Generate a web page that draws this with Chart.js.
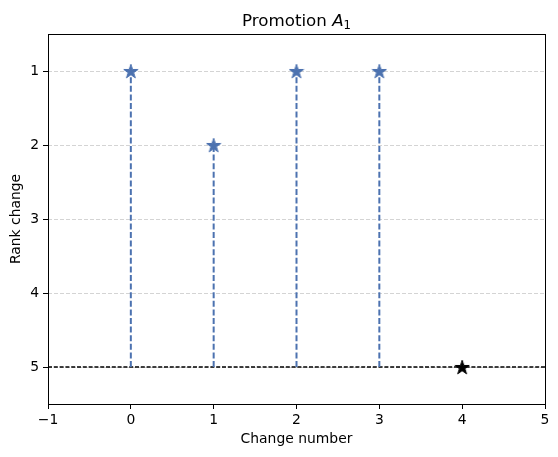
<!DOCTYPE html>
<html>
<head>
<meta charset="utf-8">
<script src="https://cdn.jsdelivr.net/npm/chart.js@4.4.0/dist/chart.umd.min.js"></script>
<style>
  body { margin: 0; background: #fff; }
</style>
</head>
<body>
<canvas id="stemChart" width="558" height="457"></canvas>
<script>
// data
const changeNumbers = [0, 1, 2, 3];
const rankChanges = [1, 2, 1, 1];
const finalChange = [4];
const finalRank = [5];
const baseRank = 5;

// axes
const xTicks = [-1, 0, 1, 2, 3, 4, 5];
const yTicks = [1, 2, 3, 4, 5];
const xMin = -1, xMax = 5;
const yMin = 0.5, yMax = 5.5;

const blue = '#4c72b0';
const font = 'DejaVu Sans';

// star marker (matplotlib '*')
const makeStar = (color, size) => {
  const c = document.createElement('canvas');
  c.width = size;
  c.height = size;
  const ctx = c.getContext('2d');
  const r = size / 2 - 0.5;
  const ri = r * 0.382;
  const cx = size / 2, cy = size / 2 + 0.8;
  ctx.beginPath();
  for (let i = 0; i < 10; i++) {
    const rad = i % 2 ? ri : r;
    const a = -Math.PI / 2 + i * Math.PI / 5;
    const px = cx + rad * Math.cos(a);
    const py = cy + rad * Math.sin(a);
    if (i === 0) ctx.moveTo(px, py); else ctx.lineTo(px, py);
  }
  ctx.closePath();
  ctx.fillStyle = color;
  ctx.fill();
  ctx.strokeStyle = color;
  ctx.lineWidth = 1;
  ctx.stroke();
  return c;
};

const blueStar = makeStar(blue, 16);
const blackStar = makeStar('#000', 16);

// stems
const stemSets = changeNumbers.map((x, i) => ({
  type: 'line',
  data: [{ x, y: baseRank }, { x, y: rankChanges[i] }],
  borderColor: blue,
  borderWidth: 2,
  borderDash: [6, 2.6],
  pointRadius: 0,
  order: 3,
}));

const datasets = [
  {
    type: 'line',
    data: [{ x: xMin, y: baseRank }, { x: xMax, y: baseRank }],
    borderColor: '#000',
    borderWidth: 1.4,
    borderDash: [4, 1.8],
    pointRadius: 0,
    order: 4,
  },
  ...stemSets,
  {
    type: 'scatter',
    data: changeNumbers.map((x, i) => ({ x, y: rankChanges[i] })),
    pointStyle: blueStar,
    order: 2,
  },
  {
    type: 'scatter',
    data: finalChange.map((x, i) => ({ x, y: finalRank[i] })),
    pointStyle: blackStar,
    order: 1,
  },
];

// gridlines, frame and texts
const decor = {
  id: 'decor',
  beforeDatasetsDraw(chart) {
    const { ctx, chartArea: a, scales } = chart;
    ctx.save();
    ctx.strokeStyle = '#d4d4d4';
    ctx.lineWidth = 1;
    ctx.setLineDash([4, 2]);
    yTicks.forEach((v) => {
      const y = Math.round(scales.y.getPixelForValue(v)) + 0.5;
      ctx.beginPath();
      ctx.moveTo(a.left, y);
      ctx.lineTo(a.right, y);
      ctx.stroke();
    });
    ctx.restore();
  },
  afterDraw(chart) {
    const { ctx, chartArea: a } = chart;
    ctx.save();
    ctx.strokeStyle = '#000';
    ctx.lineWidth = 1;
    ctx.strokeRect(a.left + 0.5, a.top + 0.5, a.right - a.left, a.bottom - a.top);

    ctx.fillStyle = '#000';
    const cx = (a.left + a.right) / 2;

    // title: Promotion A_1
    const t1 = 'Promotion ';
    ctx.font = `16.7px "${font}"`;
    const w1 = ctx.measureText(t1).width;
    ctx.font = `oblique 16.7px "${font}"`;
    const w2 = ctx.measureText('A').width;
    ctx.font = `11.7px "${font}"`;
    const w3 = ctx.measureText('1').width;
    let x = cx - (w1 + w2 + w3) / 2;
    ctx.textBaseline = 'alphabetic';
    ctx.textAlign = 'left';
    ctx.font = `16.7px "${font}"`;
    ctx.fillText(t1, x, 26);
    x += w1;
    ctx.font = `oblique 16.7px "${font}"`;
    ctx.fillText('A', x, 26);
    x += w2;
    ctx.font = `11.7px "${font}"`;
    ctx.fillText('1', x, 29);

    // axis labels
    ctx.font = `13.9px "${font}"`;
    ctx.textAlign = 'center';
    ctx.textBaseline = 'middle';
    ctx.fillText('Change number', cx, 439);
    ctx.translate(16, (a.top + a.bottom) / 2);
    ctx.rotate(-Math.PI / 2);
    ctx.fillText('Rank change', 0, 0);
    ctx.restore();
  },
};

const fmt = (v) => (v < 0 ? '\u2212' + Math.abs(v) : String(v));

new Chart(document.getElementById('stemChart'), {
  type: 'scatter',
  data: { datasets },
  options: {
    responsive: false,
    animation: false,
    devicePixelRatio: 1,
    layout: { padding: { top: 34, right: 13, left: 0, bottom: 0 } },
    plugins: {
      legend: { display: false },
      title: { display: false },
      tooltip: { enabled: false },
    },
    scales: {
      x: {
        type: 'linear',
        min: xMin,
        max: xMax,
        afterBuildTicks: (s) => { s.ticks = xTicks.map((v) => ({ value: v })); },
        afterFit: (s) => { s.height = 53; },
        ticks: {
          color: '#000',
          font: { family: font, size: 13.9 },
          padding: 3,
          maxRotation: 0,
          callback: fmt,
        },
        grid: { drawOnChartArea: false, color: '#000', tickLength: 5 },
        border: { color: '#000', width: 1 },
      },
      y: {
        type: 'linear',
        min: yMin,
        max: yMax,
        reverse: true,
        afterBuildTicks: (s) => { s.ticks = yTicks.map((v) => ({ value: v })); },
        afterFit: (s) => { s.width = 48; },
        ticks: {
          color: '#000',
          font: { family: font, size: 13.9 },
          padding: 4,
          callback: fmt,
        },
        grid: { drawOnChartArea: false, color: '#000', tickLength: 5 },
        border: { color: '#000', width: 1 },
      },
    },
  },
  plugins: [decor],
});
</script>
</body>
</html>
